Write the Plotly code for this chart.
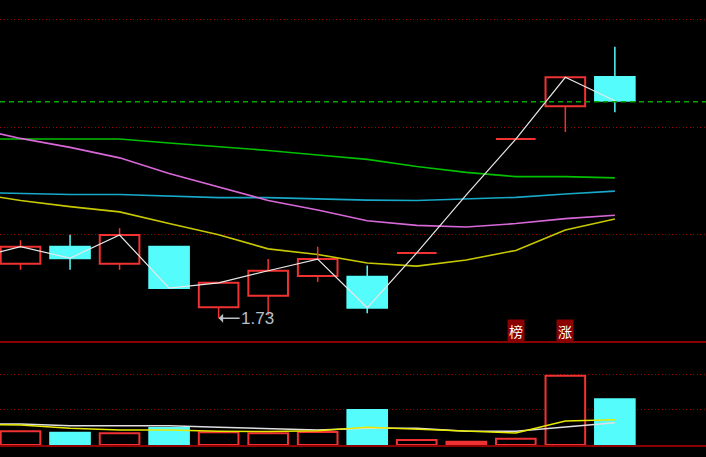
import plotly.graph_objects as go

# ---- data (13 trading days) ----
days = list(range(13))
opens = [1.907, 1.962, 1.907, 1.962, 1.766, 1.803, 1.867, 1.865, 1.942, None, 2.311, 2.417, 2.512]
highs = [1.983, 2.001, 2.022, 1.962, 1.845, 1.922, 1.962, 1.901, 1.942, None, 2.311, 2.511, 2.610]
lows = [1.887, 1.887, 1.887, 1.828, 1.730, 1.740, 1.848, 1.746, 1.942, None, 2.311, 2.334, 2.398]
closes = [1.962, 1.925, 2.000, 1.828, 1.845, 1.884, 1.922, 1.764, 1.942, 2.130, 2.311, 2.511, 2.435]
volumes = [3880, 3480, 3310, 4810, 3590, 3310, 3680, 9900, 1420, 930, 1780, 19600, 12930]

# lines start one day before the first visible candle
prev_close = 1.922
ma_green = [2.311, 2.311, 2.311, 2.311, 2.298, 2.287, 2.274, 2.259, 2.245, 2.222, 2.203, 2.189, 2.189, 2.185]
ma_cyan = [2.138, 2.134, 2.131, 2.131, 2.125, 2.121, 2.121, 2.117, 2.113, 2.112, 2.117, 2.122, 2.133, 2.142]
ma_magenta = [2.348, 2.313, 2.284, 2.250, 2.199, 2.156, 2.112, 2.081, 2.046, 2.031, 2.026, 2.037, 2.053, 2.064]
ma_yellow = [2.137, 2.112, 2.092, 2.075, 2.037, 2.001, 1.955, 1.937, 1.909, 1.899, 1.919, 1.950, 2.016, 2.052]
vol_ma_white = [5940, 5940, 5460, 5460, 5460, 5010, 4610, 4240, 4720, 4720, 3880, 3880, 5090, 6310]
vol_ma_yellow = [5800, 5660, 4720, 4240, 4240, 3880, 3820, 4050, 5010, 4530, 3960, 3400, 6790, 7160]

ref_price = 2.432   # green dashed level
low_label = 1.73
price_grid = [2.00, 2.35, 2.70]
vol_grid = [10000, 20000]
badges = [(10, "榜"), (11, "涨")]

RED = "#F03232"
CYAN = "#54FCFC"
GRID = "#9A0000"
line_x = [-1] + days

fig = go.Figure()

# Moving averages (main panel)
for vals, color in [(ma_green, "#00C000"), (ma_cyan, "#18A8C8"),
                    (ma_magenta, "#D868D8"), (ma_yellow, "#C8C800")]:
    fig.add_trace(go.Scatter(x=line_x, y=vals, mode="lines",
                             line=dict(color=color, width=1.6), hoverinfo="skip"))

# Wicks
wick = {"up": ([], []), "down": ([], [])}
for i in days:
    o, h, l, c = opens[i], highs[i], lows[i], closes[i]
    if o is None:
        continue
    key = "down" if c < o else "up"
    xs, ys = wick[key]
    top, bot = max(o, c), min(o, c)
    if h > top:
        xs += [i, i, None]
        ys += [top, h, None]
    if l < bot:
        xs += [i, i, None]
        ys += [l, bot, None]
for key, color in [("up", RED), ("down", CYAN)]:
    fig.add_trace(go.Scatter(x=wick[key][0], y=wick[key][1], mode="lines",
                             line=dict(color=color, width=1.5), hoverinfo="skip"))

# Bodies (hollow red = up, filled cyan = down, flat line = doji)
bx, bbase, bh, bfill, bline = [], [], [], [], []
dx, dy = [], []
for i in days:
    o, c = opens[i], closes[i]
    if o is None:
        continue
    if o == c:
        dx += [i - 0.4, i + 0.4, None]
        dy += [o, o, None]
        continue
    bx.append(i)
    bbase.append(min(o, c))
    bh.append(abs(c - o))
    bfill.append(CYAN if c < o else "#000000")
    bline.append(CYAN if c < o else RED)
fig.add_trace(go.Bar(x=bx, y=bh, base=bbase, width=0.8,
                     marker=dict(color=bfill, line=dict(color=bline, width=2)),
                     hoverinfo="skip"))
fig.add_trace(go.Scatter(x=dx, y=dy, mode="lines", line=dict(color=RED, width=2),
                         hoverinfo="skip"))

# Close line
fig.add_trace(go.Scatter(x=line_x, y=[prev_close] + closes, mode="lines",
                         line=dict(color="#E8E8E8", width=1.2), hoverinfo="skip"))

# Volume panel
vfill, vline = [], []
for i in days:
    o, c = opens[i], closes[i]
    if o is None:
        vfill.append(RED)
        vline.append(RED)
    elif c < o:
        vfill.append(CYAN)
        vline.append(CYAN)
    else:
        vfill.append("#000000")
        vline.append(RED)
fig.add_trace(go.Bar(x=days, y=volumes, width=0.8, xaxis="x2", yaxis="y2",
                     marker=dict(color=vfill, line=dict(color=vline, width=2)),
                     hoverinfo="skip"))
fig.add_trace(go.Scatter(x=line_x, y=vol_ma_white, mode="lines", xaxis="x2", yaxis="y2",
                         line=dict(color="#E0E0E0", width=1.6), hoverinfo="skip"))
fig.add_trace(go.Scatter(x=line_x, y=vol_ma_yellow, mode="lines", xaxis="x2", yaxis="y2",
                         line=dict(color="#E8E800", width=1.6), hoverinfo="skip"))

fig.add_shape(type="line", xref="paper", x0=0, x1=1, yref="y", y0=ref_price, y1=ref_price,
              line=dict(color="#00A800", width=1.5, dash="5px,4px"))

# low marker: arrow pointing at the wick, label to its right
fig.add_annotation(x=4, y=low_label, xref="x", yref="y", text=f"{low_label:.2f}",
                   showarrow=True, ax=21, ay=0, xanchor="left", yanchor="middle",
                   arrowhead=1, arrowsize=1, arrowwidth=1.5, arrowcolor="#B8C0C8",
                   borderpad=0, standoff=0,
                   font=dict(family="Liberation Sans, Arial", size=17, color="#B8C0C8"))
for i, txt in badges:
    fig.add_annotation(x=i, y=0.2768, xref="x", yref="paper", text=txt, showarrow=False,
                       xanchor="center", yanchor="middle",
                       bgcolor="#8B0000", borderpad=1,
                       font=dict(family="Noto Sans CJK SC", size=14, color="#FFFFFF"))

xrange = [-0.414, 13.84]
fig.update_layout(
    width=706, height=457,
    margin=dict(l=0, r=0, t=0, b=0),
    paper_bgcolor="#000000", plot_bgcolor="#000000",
    showlegend=False, barmode="overlay",
    xaxis=dict(domain=[0, 1], range=xrange, visible=False, anchor="y"),
    yaxis=dict(domain=[0.2495, 1], range=[1.65, 2.7616], tickvals=price_grid,
               showticklabels=False, zeroline=False, gridcolor=GRID, gridwidth=1,
               griddash="1px,2.5px"),
    xaxis2=dict(domain=[0, 1], range=xrange, anchor="y2", showgrid=False,
                showticklabels=False, zeroline=False, showline=True, mirror=True,
                linecolor="#8B0000", linewidth=2, ticks=""),
    yaxis2=dict(domain=[0.02626, 0.2495], range=[0, 28856], tickvals=vol_grid,
                showticklabels=False, zeroline=False, gridcolor=GRID, gridwidth=1,
                griddash="1px,2.5px", anchor="x2"),
)

fig.write_html("out.html", config={"displayModeBar": False},
               post_script="document.body.style.margin='0';")
